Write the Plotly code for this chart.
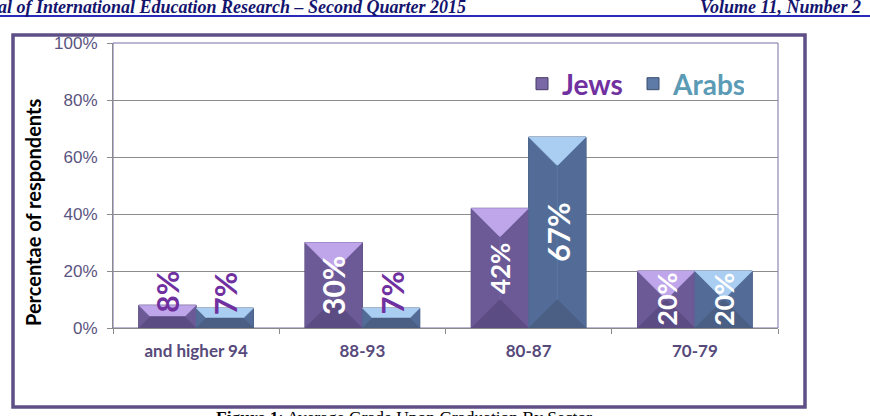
import plotly.graph_objects as go

# ---------------- data ----------------
categories = ["and higher 94", "88-93", "80-87", "70-79"]
jews = [8, 30, 42, 20]
arabs = [7, 7, 67, 20]
jews_labels = ["8%", "30%", "42%", "20%"]
arabs_labels = ["7%", "7%", "67%", "20%"]
y_tick_vals = [0, 20, 40, 60, 80, 100]
y_tick_text = ["0%", "20%", "40%", "60%", "80%", "100%"]

# ---------------- style ----------------
W, H = 870, 416
L, R, T, B = 113, 92, 43, 88
PW, PH = W - L - R, H - T - B
BARGAP = 0.31
XMIN, XMAX = -0.5, 3.5
YMIN, YMAX = 0, 100
PX_PER_X = PW / (XMAX - XMIN)
PX_PER_Y = PH / (YMAX - YMIN)

jews_style = dict(face="#7a67a6", side="#6c5a97", top="#bfa6ea", bottom="#5c4c84")
arabs_style = dict(face="#5e7ba7", side="#526c97", top="#aacdf2", bottom="#4a5f83")
jews_label_size = [30, 30, 26, 27]
arabs_label_size = [31, 31, 30, 27]
small_label_color = "#7030a0"
BEVEL_PX = 28


def px_x(p):
    return (p - L) / PW


def px_y(p):
    return (H - B - p) / PH


fig = go.Figure()
xs = list(range(len(categories)))
fig.add_trace(go.Bar(x=xs, y=jews, name="<span style='color:#7030a0'><b>Jews</b></span>",
                     marker=dict(color=jews_style["face"], line=dict(color="#463a66", width=1))))
fig.add_trace(go.Bar(x=xs, y=arabs, name="<span style='color:#5b9bb5'><b>Arabs</b></span>",
                     marker=dict(color=arabs_style["face"], line=dict(color="#3b4d6e", width=1))))

half_w = (1 - BARGAP) / 4  # half width of one bar in x units


def bevel(series, offset, style):
    for i, v in enumerate(series):
        cx = i + offset
        xl, xr = cx - half_w, cx + half_w
        h_px = v * PX_PER_Y
        d_px = min(BEVEL_PX, half_w * PX_PER_X, h_px / 2)
        dx = d_px / PX_PER_X
        dy = d_px / PX_PER_Y
        polys = [
            ([xl, xl, xl + dx, xl + dx, xl], [0, v, v - dy, dy, 0], style["side"]),
            ([xr, xr, xr - dx, xr - dx, xr], [0, v, v - dy, dy, 0], style["side"]),
            ([xl, xr, xr - dx, xl + dx, xl], [v, v, v - dy, v - dy, v], style["top"]),
            ([xl, xr, xr - dx, xl + dx, xl], [0, 0, dy, dy, 0], style["bottom"]),
        ]
        for px_, py_, col in polys:
            fig.add_trace(go.Scatter(x=px_, y=py_, mode="lines", fill="toself",
                                     fillcolor=col, line=dict(color=col, width=0.5),
                                     hoverinfo="skip", showlegend=False))


bevel(jews, -half_w, jews_style)
bevel(arabs, half_w, arabs_style)

annotations = []


def add_labels(series, labels, sizes, offset):
    for i, (v, t, s) in enumerate(zip(series, labels, sizes)):
        small = v < 10
        annotations.append(dict(
            x=i + offset, y=v if small else v / 2, xref="x", yref="y",
            text=t, textangle=-90, showarrow=False, xanchor="center",
            yanchor="bottom" if small else "middle", yshift=-9 if small else 0,
            font=dict(family="Lato", size=s, weight="bold",
                      color=small_label_color if small else "white")))


add_labels(jews, jews_labels, jews_label_size, -half_w)
add_labels(arabs, arabs_labels, arabs_label_size, half_w)

# axis title
annotations.append(dict(x=px_x(33), y=px_y(213), xref="paper", yref="paper",
                        xanchor="center", yanchor="middle",
                        text="<b>Percentae of respondents</b>", textangle=-90, showarrow=False,
                        font=dict(family="Lato", size=20, color="black")))
# page header (cropped journal page)
annotations.append(dict(x=px_x(468), y=px_y(7), xref="paper", yref="paper", xanchor="right",
                        yanchor="middle", showarrow=False,
                        text="<b><i>Journal of International Education Research – Second Quarter 2015</i></b>",
                        font=dict(family="Liberation Serif", size=18, color="#14146e")))
annotations.append(dict(x=px_x(698), y=px_y(7), xref="paper", yref="paper", xanchor="left",
                        yanchor="middle", showarrow=False,
                        text="<b><i>Volume 11, Number 2</i></b>",
                        font=dict(family="Liberation Serif", size=18, color="#14146e")))
# figure caption (cropped)
annotations.append(dict(x=px_x(214), y=px_y(405), xref="paper", yref="paper", xanchor="left",
                        yanchor="top", showarrow=False,
                        text="<b>Figure 1</b>: Average Grade Upon Graduation By Sector",
                        font=dict(family="Liberation Serif", size=17.5, color="black")))

shapes = [
    # outer chart frame
    dict(type="rect", xref="paper", yref="paper", x0=px_x(13), x1=px_x(805),
         y0=px_y(407), y1=px_y(35), line=dict(color="#5e4f86", width=3.5), layer="below"),
    # plot area frame
    dict(type="rect", xref="paper", yref="paper", x0=0, x1=1, y0=0, y1=1,
         line=dict(color="#7b6fa8", width=1), layer="below"),
    # header underline
    dict(type="line", xref="paper", yref="paper", x0=px_x(0), x1=px_x(870),
         y0=px_y(16), y1=px_y(16), line=dict(color="#2a2ab8", width=2)),
]

fig.update_layout(
    width=W, height=H,
    margin=dict(l=L, r=R, t=T, b=B),
    paper_bgcolor="white", plot_bgcolor="white",
    barmode="group", bargap=BARGAP, bargroupgap=0,
    showlegend=True,
    legend=dict(orientation="h", x=px_x(522), y=px_y(84), xanchor="left", yanchor="middle",
                font=dict(family="Lato", size=28), bgcolor="rgba(0,0,0,0)",
                traceorder="normal", itemwidth=30, entrywidth=66, entrywidthmode="pixels"),
    annotations=annotations,
    shapes=shapes,
    xaxis=dict(range=[XMIN, XMAX], tickvals=xs, ticktext=categories, ticks="",
               showgrid=False, zeroline=False, showline=True, linecolor="#8a8a8a", linewidth=1,
               tickfont=dict(family="Lato", size=17, color="#574a7b", weight="bold"),
               ticklabelstandoff=8,
               minor=dict(tickvals=[-0.5, 0.5, 1.5, 2.5, 3.5], ticks="outside", ticklen=5,
                          tickcolor="#8a8a8a", showgrid=False)),
    yaxis=dict(range=[YMIN, YMAX], tickvals=y_tick_vals, ticktext=y_tick_text,
               ticks="outside", ticklen=5, tickcolor="#8a8a8a",
               showgrid=True, gridcolor="#8c8c8c", gridwidth=1, zeroline=False,
               showline=True, linecolor="#8a8a8a", linewidth=1,
               tickfont=dict(family="Liberation Sans", size=17, color="#5a5480"),
               ticklabelstandoff=6),
)

fig.write_html("out.html")
